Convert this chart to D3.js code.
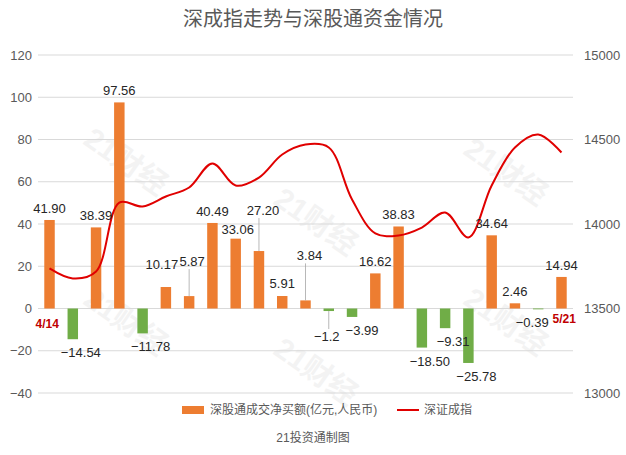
<!DOCTYPE html>
<html><head><meta charset="utf-8">
<script src="https://cdn.jsdelivr.net/npm/d3@7"></script>
<style>body{margin:0;background:#fff}text{font-family:"Liberation Sans","Noto Sans CJK SC",sans-serif}</style>
</head><body><svg id="c" width="626" height="455"></svg>
<script>
const categories = d3.range(23).map(i=>"d"+i);
const flows = [41.90,-14.54,38.39,97.56,-11.78,10.17,5.87,40.49,33.06,27.20,5.91,3.84,-1.2,-3.99,16.62,38.83,-18.50,-9.31,-25.78,34.64,2.46,-0.39,14.94];
const flowLabels = ["41.90","−14.54","38.39","97.56","−11.78","10.17","5.87","40.49","33.06","27.20","5.91","3.84","−1.2","−3.99","16.62","38.83","−18.50","−9.31","−25.78","34.64","2.46","−0.39","14.94"];
const index = [13737,13678,13719,14127,14104,14163,14216,14358,14228,14275,14411,14470,14453,14145,13944,13932,13979,14068,13920,14228,14453,14530,14423];
const leftTicks = [-40,-20,0,20,40,60,80,100,120];
const rightTicks = [13000,13500,14000,14500,15000];

const svg = d3.select("#c");
const L=38, R=573, T=55, B=393;
const x = d3.scaleBand().domain(categories).range([L,R]).paddingInner(0.55).paddingOuter(0.27);
const y = d3.scaleLinear().domain([-40,120]).range([B,T]);
const y2 = d3.scaleLinear().domain([13000,15000]).range([B,T]);

svg.append("text").attr("x",313).attr("y",26).attr("text-anchor","middle").attr("font-size",20).attr("fill","#595959").attr("font-family","Noto Sans CJK SC").text("深成指走势与深股通资金情况");

[[120,170],[310,230],[500,180],[120,330],[310,380],[500,330]].forEach(([a,b])=>{
  svg.append("text").attr("transform",`translate(${a},${b}) rotate(35)`).attr("text-anchor","middle").attr("font-size",30).attr("font-weight","bold").attr("fill","#000").attr("opacity",0.045).text("21财经");
});

svg.append("g").selectAll("line").data(leftTicks).join("line")
 .attr("x1",L).attr("x2",R).attr("y1",d=>y(d)).attr("y2",d=>y(d)).attr("stroke","#d9d9d9");

const ga = svg.append("g").attr("transform",`translate(${L-6},0)`).call(d3.axisLeft(y).tickValues(leftTicks).tickSize(0).tickFormat(d=>d<0?"−"+(-d):d));
ga.select(".domain").remove();
ga.selectAll("text").attr("font-size",13).attr("fill","#595959").attr("text-anchor","end").attr("x",0);
const gb = svg.append("g").attr("transform",`translate(${R+8},0)`).call(d3.axisRight(y2).tickValues(rightTicks).tickSize(0).tickFormat(d3.format("d")));
gb.select(".domain").remove();
gb.selectAll("text").attr("font-size",13).attr("fill","#595959");

svg.append("g").selectAll("rect").data(flows).join("rect")
 .attr("x",(d,i)=>x(categories[i])).attr("width",x.bandwidth())
 .attr("y",d=>y(Math.max(0,d))).attr("height",d=>Math.abs(y(d)-y(0)))
 .attr("fill",d=>d>=0?"#ED7D31":"#70AD47");

const line = d3.line().x((d,i)=>x(categories[i])+x.bandwidth()/2).y(d=>y2(d)).curve(d3.curveCatmullRom.alpha(0.5));
svg.append("path").datum(index).attr("d",line).attr("fill","none").attr("stroke","#E00000").attr("stroke-width",2);

const adj = {5:[-4,-18,false],6:[3,-30,true],8:[2,-5,false],9:[4,-36,true],10:[0,-8,false],11:[4,-40,true],12:[-2,30,true],13:[10,18,false],21:[-6,18,false],22:[0,-7,false]};
flows.forEach((d,i)=>{
  const cx = x(categories[i])+x.bandwidth()/2;
  let dx = d<0 ? 8 : 0, dy = d>=0 ? -7 : 18, lead=false;
  if(adj[i]){[dx,dy,lead]=adj[i];}
  const ty = y(d)+dy;
  if(lead){
    const y1 = d>=0 ? ty+3 : ty-12;
    svg.append("line").attr("x1",cx).attr("x2",cx).attr("y1",y1).attr("y2",y(d)).attr("stroke","#a6a6a6").attr("stroke-width",0.8);
  }
  svg.append("text").attr("x",cx+dx).attr("y",ty).attr("text-anchor","middle").attr("font-size",13).attr("fill","#262626").text(flowLabels[i]);
});
svg.append("text").attr("x",x(categories[0])+3).attr("y",y(0)+19).attr("text-anchor","middle").attr("font-size",12).attr("font-weight","bold").attr("fill","#C00000").text("4/14");
svg.append("text").attr("x",x(categories[22])+8).attr("y",y(0)+14).attr("text-anchor","middle").attr("font-size",12).attr("font-weight","bold").attr("fill","#C00000").text("5/21");

svg.append("rect").attr("x",182).attr("y",406).attr("width",22).attr("height",8).attr("fill","#ED7D31");
svg.append("text").attr("x",210).attr("y",414).attr("font-size",12).attr("fill","#595959").text("深股通成交净买额(亿元,人民币)");
svg.append("line").attr("x1",397).attr("x2",419).attr("y1",410).attr("y2",410).attr("stroke","#E00000").attr("stroke-width",2);
svg.append("text").attr("x",424).attr("y",414).attr("font-size",12).attr("fill","#595959").text("深证成指");
svg.append("text").attr("x",313).attr("y",442).attr("text-anchor","middle").attr("font-size",12).attr("fill","#595959").text("21投资通制图");
</script></body></html>
